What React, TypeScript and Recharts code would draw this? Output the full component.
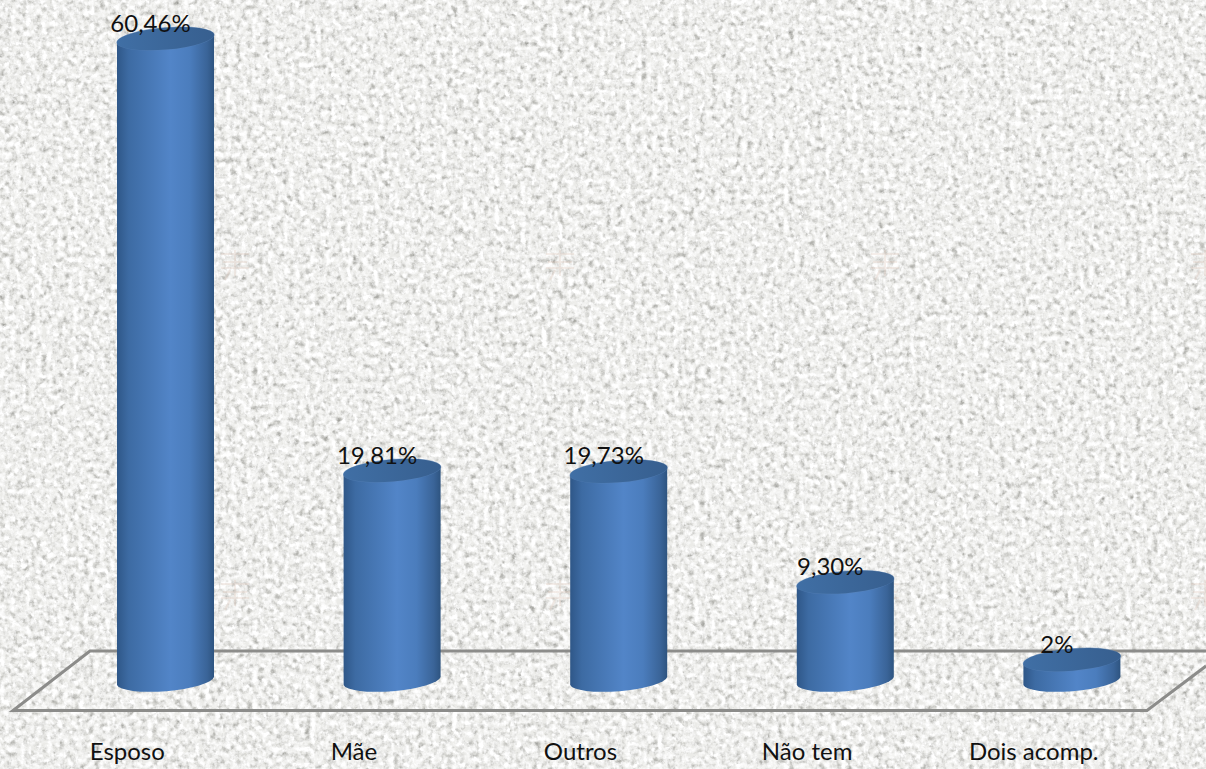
import React from "react";
import { BarChart, Bar, XAxis, YAxis, LabelList } from "recharts";

const categories = ["Esposo", "Mãe", "Outros", "Não tem", "Dois acomp."];
const values = [60.46, 19.81, 19.73, 9.3, 2];
const valueLabels = ["60,46%", "19,81%", "19,73%", "9,30%", "2%"];
const rows = categories.map((name, i) => ({ name, value: values[i], label: valueLabels[i] }));

const FONT = "Lato, 'Open Sans', sans-serif";
const stampX = [235, 560, 885, 1205];
const stampY = [262, 592];

function Cylinder(props: any) {
  const { x, y, width, height } = props;
  const cx = x + width / 2;
  const rx = width / 2 + 0.3;
  const ry = 11;
  const rot = -4.7;
  const dy = (width / 2) * Math.tan((4.7 * Math.PI) / 180);
  const top = y;
  const bottom = y + height;
  const body = `M${x} ${top + dy} L${x} ${bottom + dy} A${rx} ${ry} ${rot} 0 0 ${x + width} ${bottom - dy} L${x + width} ${top - dy} Z`;
  return (
    <g>
      <path d={body} fill="url(#cylBody)" />
      <ellipse cx={cx} cy={top} rx={rx + 0.5} ry={ry + 0.5} transform={`rotate(${rot} ${cx} ${top})`} fill="#5a84b8" opacity={0.55} />
      <ellipse cx={cx} cy={top} rx={rx} ry={ry} transform={`rotate(${rot} ${cx} ${top})`} fill="url(#cylTop)" />
    </g>
  );
}

function CategoryTick(props: any) {
  const { x, y, payload } = props;
  return (
    <text x={x - 38} y={y + 73} textAnchor="middle" fontFamily={FONT} fontSize={24} fill="#111">
      {payload.value}
    </text>
  );
}

function ValueLabel(props: any) {
  const { x, y, width, value } = props;
  return (
    <text x={x + width / 2 - 15} y={y - 7} textAnchor="middle" fontFamily={FONT} fontSize={24} fill="#111">
      {value}
    </text>
  );
}

function Backdrop() {
  return (
    <svg width={1206} height={769} style={{ position: "absolute", left: 0, top: 0 }}>
      <defs>
        <filter id="paper2" x="0" y="0" width="100%" height="100%" colorInterpolationFilters="sRGB">
          <feTurbulence type="fractalNoise" baseFrequency="0.17" numOctaves={3} seed={11} />
          <feColorMatrix type="matrix" values="0 0 0 0 0.6  0 0 0 0 0.6  0 0 0 0 0.58  1.2 1.2 0 0 -1.05" />
          <feGaussianBlur stdDeviation="0.7" />
        </filter>
        <filter id="paper3" x="0" y="0" width="100%" height="100%" colorInterpolationFilters="sRGB">
          <feTurbulence type="fractalNoise" baseFrequency="0.19" numOctaves={3} seed={23} />
          <feColorMatrix type="matrix" values="0 0 0 0 1  0 0 0 0 1  0 0 0 0 1  1.8 1.8 0 0 -1.35" />
          <feGaussianBlur stdDeviation="0.7" />
        </filter>
      </defs>
      <rect width={1206} height={769} fill="#ebebe8" />
      <rect width={1206} height={769} filter="url(#paper2)" />
      <rect width={1206} height={769} filter="url(#paper3)" />
      <g fill="none" stroke="#e2cfc2" strokeWidth={2} opacity={0.35}>
        {stampX.flatMap((sx) =>
          stampY.map((sy) => (
            <path key={`${sx}-${sy}`} d={`M${sx - 14} ${sy - 8} H${sx + 14} M${sx - 12} ${sy} H${sx + 12} M${sx - 14} ${sy + 6} H${sx + 14} M${sx} ${sy - 12} V${sy + 14} M${sx - 5} ${sy + 8} L${sx - 10} ${sy + 18}`} />
          ))
        )}
      </g>
      <g fill="none" stroke="#8c8c8a" strokeWidth={3}>
        <path d="M1206 651 L90 651 L13 710.5 L1147 710.5 L1206 666" />
      </g>
    </svg>
  );
}

export default function App() {
  return (
    <div style={{ position: "absolute", left: 0, top: 0, width: 1206, height: 769, overflow: "hidden" }}>
      <Backdrop />
      <div style={{ position: "absolute", left: 0, top: 0 }}>
        <BarChart width={1206} height={769} data={rows} margin={{ top: 1, right: 21, bottom: 0, left: 52 }}>
          <defs>
            <linearGradient id="cylBody" x1="0" y1="0" x2="1" y2="0">
              <stop offset="0" stopColor="#2f5788" />
              <stop offset="0.12" stopColor="#3d6ba3" />
              <stop offset="0.55" stopColor="#5285c8" />
              <stop offset="0.75" stopColor="#4b7dbd" />
              <stop offset="0.93" stopColor="#3a6498" />
              <stop offset="1" stopColor="#2e5480" />
            </linearGradient>
            <linearGradient id="cylTop" x1="0" y1="0" x2="1" y2="0">
              <stop offset="0" stopColor="#406fa5" />
              <stop offset="1" stopColor="#375f8f" />
            </linearGradient>
          </defs>
          <XAxis dataKey="name" axisLine={false} tickLine={false} tick={<CategoryTick />} height={88} tickMargin={0} interval={0} />
          <YAxis hide domain={[0, 64]} />
          <Bar dataKey="value" barSize={97} shape={<Cylinder />} isAnimationActive={false}>
            <LabelList dataKey="label" content={<ValueLabel />} />
          </Bar>
        </BarChart>
      </div>
    </div>
  );
}
